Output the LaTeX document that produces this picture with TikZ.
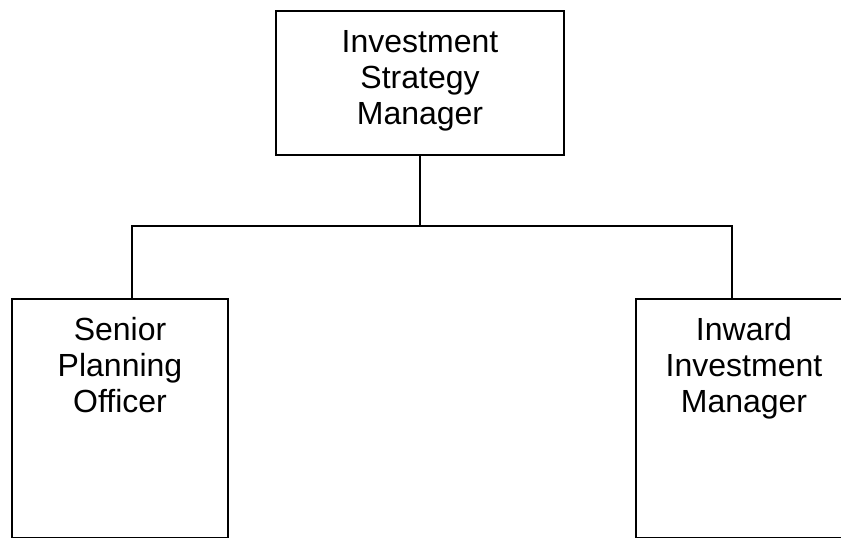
\documentclass[tikz,border=0pt]{standalone}
\usepackage{fontspec}
\setmainfont{Liberation Sans}
\usetikzlibrary{positioning}
\tikzset{
  post/.style={draw=black,line width=1.5pt,fill=white,align=center,inner sep=0pt,anchor=north,
    minimum width=216pt,text height=114pt,font=\fontsize{32}{36}\selectfont},
  headpost/.style={post,minimum width=288pt,text depth=30pt},
  subpost/.style={post,text depth=125pt},
  link/.style={draw=black,line width=1.5pt}
}

\begin{document}
\begin{tikzpicture}[x=1pt,y=-1pt]
\useasboundingbox[fill=white] (0,0) rectangle (841,538);
% posts
\node[headpost] (ism) at (420,10) {Investment\\Strategy\\Manager};
\node[subpost] (spo) at (120,298) {Senior\\Planning\\Officer};
\node[subpost] (iim) at (744,298) {Inward\\Investment\\Manager};
% reporting lines
\coordinate (bus) at (420,226);
\draw[link] (ism.south) |- (bus) -| ([xshift=12pt]spo.north);
\draw[link] (bus) -| ([xshift=-12pt]iim.north);
\end{tikzpicture}
\end{document}
